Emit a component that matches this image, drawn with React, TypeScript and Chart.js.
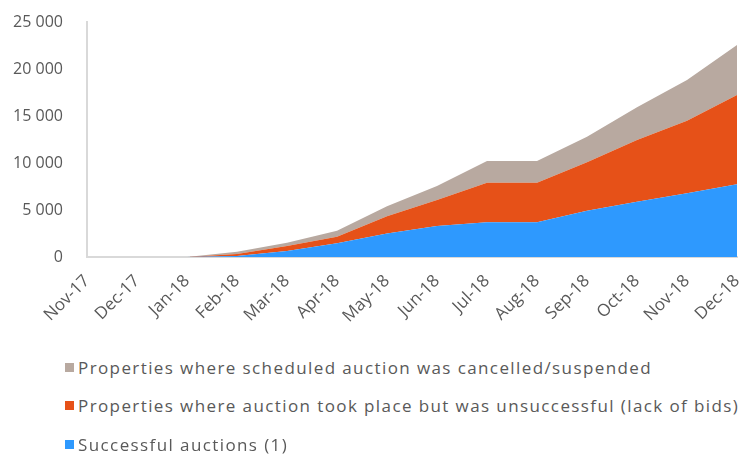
import React, { useEffect, useRef } from "react";
import { Chart, registerables } from "chart.js";

Chart.register(...registerables);

const categories = [
  "Nov-17", "Dec-17", "Jan-18", "Feb-18", "Mar-18", "Apr-18", "May-18",
  "Jun-18", "Jul-18", "Aug-18", "Sep-18", "Oct-18", "Nov-18", "Dec-18",
];
const successful = [0, 0, 0, 100, 640, 1450, 2510, 3300, 3700, 3700, 4930, 5880, 6780, 7740];
const unsuccessful = [0, 0, 0, 220, 520, 700, 1830, 2760, 4200, 4200, 5150, 6570, 7720, 9500];
const cancelled = [0, 0, 0, 240, 350, 640, 1060, 1490, 2310, 2310, 2720, 3480, 4330, 5320];
const yTicks = [0, 5000, 10000, 15000, 20000, 25000];

const seriesNames = [
  "Successful auctions (1)",
  "Properties where auction took place but was unsuccessful (lack of bids)",
  "Properties where scheduled auction was cancelled/suspended",
];
const seriesColors = ["#2E99FE", "#E65118", "#B8A9A0"];

const FONT = "'Open Sans', 'DejaVu Sans', sans-serif";
const TEXT = "#595959";

function fmt(v: number): string {
  const s = String(Math.round(v));
  return s.replace(/\B(?=(\d{3})+(?!\d))/g, " ");
}

export default function App() {
  const ref = useRef<HTMLCanvasElement | null>(null);

  useEffect(() => {
    if (!ref.current) return;
    const data = [successful, unsuccessful, cancelled];
    const chart = new Chart(ref.current, {
      type: "line",
      data: {
        labels: categories,
        datasets: data.map((d, i) => ({
          label: seriesNames[i],
          data: d,
          backgroundColor: seriesColors[i],
          borderColor: seriesColors[i],
          borderWidth: 0,
          pointRadius: 0,
          tension: 0,
          fill: i === 0 ? "origin" : "-1",
        })),
      },
      options: {
        animation: false,
        responsive: true,
        maintainAspectRatio: false,
        layout: { padding: { top: 22, right: 7, left: 0, bottom: 0 } },
        plugins: {
          legend: { display: false },
          tooltip: { enabled: false },
        },
        scales: {
          x: {
            offset: false,
            grid: { display: false, drawTicks: false },
            border: { display: true, color: "#D9D9D9", width: 2 },
            ticks: {
              color: TEXT,
              font: { family: FONT, size: 17 },
              minRotation: 45,
              maxRotation: 45,
              autoSkip: false,
              padding: 14,
            },
            afterFit: (s: any) => {
              s.height = 88;
              s.paddingLeft = 0;
              s.paddingRight = 0;
            },
          },
          y: {
            stacked: true,
            min: 0,
            max: 25000,
            afterBuildTicks: (s: any) => {
              s.ticks = yTicks.map((v) => ({ value: v }));
            },
            grid: { display: false, drawTicks: false },
            border: { display: true, color: "#D9D9D9", width: 2 },
            ticks: {
              color: TEXT,
              font: { family: FONT, size: 16 },
              padding: 24,
              callback: (v: any) => fmt(Number(v)),
            },
            afterFit: (s: any) => {
              s.width = 87;
              s.paddingTop = 0;
              s.paddingBottom = 0;
            },
          },
        },
      },
    });
    return () => chart.destroy();
  }, []);

  const legendOrder = [2, 1, 0];

  return (
    <div
      style={{
        position: "fixed",
        left: 0,
        top: 0,
        width: 744,
        height: 454,
        background: "#fff",
        fontFamily: FONT,
      }}
    >
      <div style={{ position: "absolute", left: 0, top: 0, width: 744, height: 345 }}>
        <canvas ref={ref} />
      </div>
      {legendOrder.map((idx, row) => (
        <div
          key={idx}
          style={{
            position: "absolute",
            left: 65,
            top: 355 + row * 38.5,
            height: 24,
            display: "flex",
            alignItems: "center",
            whiteSpace: "nowrap",
            color: TEXT,
            fontSize: 17,
            letterSpacing: "1.4px",
          }}
        >
          <span
            style={{
              display: "inline-block",
              width: 9,
              height: 9,
              background: seriesColors[idx],
              marginRight: 4,
            }}
          />
          <span>{seriesNames[idx]}</span>
        </div>
      ))}
    </div>
  );
}
